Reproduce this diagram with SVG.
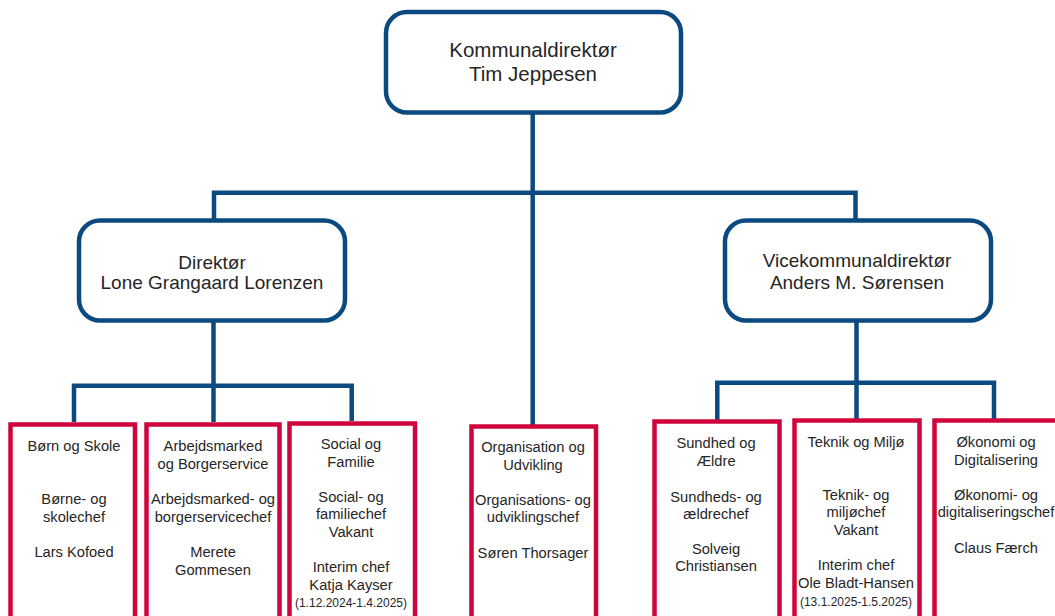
<svg xmlns="http://www.w3.org/2000/svg" width="1055" height="616" viewBox="0 0 1055 616">
<style>
.bg{fill:#ffffff}
.lead{fill:#ffffff;stroke:#0b4a80;stroke-width:4.5}
.unit{fill:#ffffff;stroke:#d0043c;stroke-width:4.5}
.conn{fill:none;stroke:#0b4a80;stroke-width:4.5;stroke-linecap:butt}
text{font-family:"Liberation Sans",Arial,sans-serif;fill:#262626;text-anchor:middle}
.t0{font-size:20.5px}
.t1{font-size:19px}
.t2{font-size:14.7px}
.t3{font-size:12px}
</style>
<rect class="bg" x="0" y="0" width="1055" height="616"/>
<g id="connectors">
<path class="conn" d="M532.7 112 V426"/>
<path class="conn" d="M214 192.7 H855.5 M214 190.5 V220 M855.5 190.5 V220"/>
<path class="conn" d="M213.5 320 V422 M74 385.7 H351.7 M74 383.5 V422 M351.7 383.5 V421"/>
<path class="conn" d="M856.5 320 V419 M717.3 382.7 H994 M717.3 380.5 V420 M994 380.5 V419"/>
</g>
<g id="kommunaldirektoer">
<rect class="lead" x="386" y="12" width="295" height="100.5" rx="21"/>
<text class="t0" x="533" y="57">Kommunaldirektør</text>
<text class="t0" x="533" y="81">Tim Jeppesen</text>
</g>
<g id="direktoer">
<rect class="lead" x="79" y="220.5" width="266" height="100" rx="21"/>
<text class="t1" x="212" y="268.5">Direktør</text>
<text class="t1" x="212" y="289">Lone Grangaard Lorenzen</text>
</g>
<g id="vicekommunaldirektoer">
<rect class="lead" x="725" y="220.5" width="266" height="100" rx="21"/>
<text class="t1" x="857" y="266.5">Vicekommunaldirektør</text>
<text class="t1" x="857" y="289">Anders M. Sørensen</text>
</g>
<g id="boern-skole">
<rect class="unit" x="10.5" y="424.5" width="124.5" height="210"/>
<text class="t2" x="74" y="451">Børn og Skole</text>
<text class="t2" x="74" y="504">Børne- og</text>
<text class="t2" x="74" y="522">skolechef</text>
<text class="t2" x="74" y="557">Lars Kofoed</text>
</g>
<g id="arbejdsmarked">
<rect class="unit" x="146.5" y="424.5" width="133" height="210"/>
<text class="t2" x="213" y="451">Arbejdsmarked</text>
<text class="t2" x="213" y="468.5">og Borgerservice</text>
<text class="t2" x="213" y="504">Arbejdsmarked- og</text>
<text class="t2" x="213" y="522">borgerservicechef</text>
<text class="t2" x="213" y="557">Merete</text>
<text class="t2" x="213" y="574.5">Gommesen</text>
</g>
<g id="social-familie">
<rect class="unit" x="289.5" y="423.5" width="125.5" height="210"/>
<text class="t2" x="351" y="449">Social og</text>
<text class="t2" x="351" y="467">Familie</text>
<text class="t2" x="351" y="502">Social- og</text>
<text class="t2" x="351" y="519">familiechef</text>
<text class="t2" x="351" y="537">Vakant</text>
<text class="t2" x="351" y="572">Interim chef</text>
<text class="t2" x="351" y="589.5">Katja Kayser</text>
<text class="t3" x="351" y="607">(1.12.2024-1.4.2025)</text>
</g>
<g id="organisation">
<rect class="unit" x="471.5" y="426.5" width="124.5" height="210"/>
<text class="t2" x="533" y="452">Organisation og</text>
<text class="t2" x="533" y="469.5">Udvikling</text>
<text class="t2" x="533" y="505">Organisations- og</text>
<text class="t2" x="533" y="522">udviklingschef</text>
<text class="t2" x="533" y="558">Søren Thorsager</text>
</g>
<g id="sundhed">
<rect class="unit" x="654.5" y="421.5" width="125" height="210"/>
<text class="t2" x="716" y="448">Sundhed og</text>
<text class="t2" x="716" y="466">Ældre</text>
<text class="t2" x="716" y="502">Sundheds- og</text>
<text class="t2" x="716" y="518.5">ældrechef</text>
<text class="t2" x="716" y="553.5">Solveig</text>
<text class="t2" x="716" y="571">Christiansen</text>
</g>
<g id="teknik">
<rect class="unit" x="794.5" y="420.5" width="125" height="210"/>
<text class="t2" x="856" y="447">Teknik og Miljø</text>
<text class="t2" x="856" y="500">Teknik- og</text>
<text class="t2" x="856" y="517">miljøchef</text>
<text class="t2" x="856" y="534.5">Vakant</text>
<text class="t2" x="856" y="570">Interim chef</text>
<text class="t2" x="856" y="588">Ole Bladt-Hansen</text>
<text class="t3" x="856" y="606">(13.1.2025-1.5.2025)</text>
</g>
<g id="oekonomi">
<rect class="unit" x="934.5" y="420.5" width="130" height="210"/>
<text class="t2" x="996" y="447">Økonomi og</text>
<text class="t2" x="996" y="464.5">Digitalisering</text>
<text class="t2" x="996" y="500">Økonomi- og</text>
<text class="t2" x="996" y="517">digitaliseringschef</text>
<text class="t2" x="996" y="552.5">Claus Færch</text>
</g>
</svg>
